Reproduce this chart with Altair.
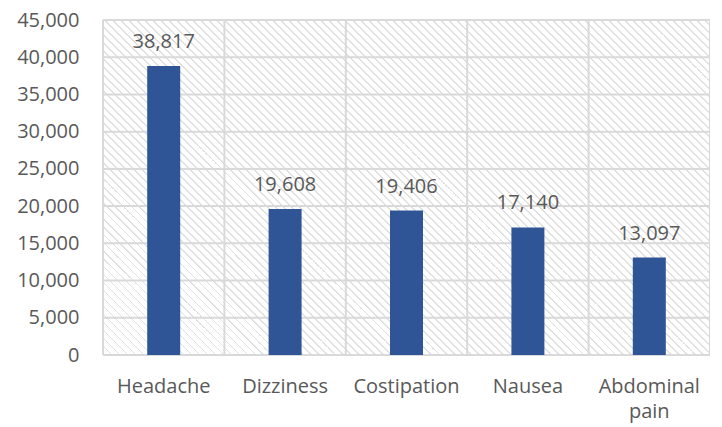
import altair as alt
import pandas as pd
import numpy as np

categories = ["Headache", "Dizziness", "Costipation", "Nausea", "Abdominal pain"]
values = [38817, 19608, 19406, 17140, 13097]
y_ticks = [0, 5000, 10000, 15000, 20000, 25000, 30000, 35000, 40000, 45000]

W, H = 607, 335
FONT = "Open Sans"
TXT = "#595959"
GRID = "#d9d9d9"

df = pd.DataFrame({"cat": categories, "val": values})
grid_df = pd.DataFrame({"t": y_ticks})
last_df = pd.DataFrame({"cat": categories[-1:]})

# diagonal hatch pattern as a hard-stop linear gradient (style only)
period, stripe = 8.0, 1.5
span = W + H
stops = []
k = 0
while k * period < span:
    a = k * period / span
    b = min((k * period + stripe) / span, 1.0)
    stops += [{"offset": a, "color": "#ffffff"}, {"offset": a, "color": "#e0e0e0"},
              {"offset": b, "color": "#e0e0e0"}, {"offset": b, "color": "#ffffff"}]
    k += 1
stops.append({"offset": 1.0, "color": "#ffffff"})
s = (W + H) * W / (W * W + H * H)
hatch = {"gradient": "linear", "x1": 0, "y1": 1, "x2": s, "y2": 1 - s * H / W, "stops": stops}

xs = alt.Scale(domain=categories, paddingInner=0, paddingOuter=0)
ys = alt.Scale(domain=[0, 45000], nice=False)

bg = alt.Chart(pd.DataFrame({"a": [0]})).mark_rect(fill=hatch, strokeWidth=0).encode(
    x=alt.value(0), x2=alt.value("width"), y=alt.value(0), y2=alt.value("height"))

hgrid = alt.Chart(grid_df).mark_rule(color=GRID, strokeWidth=2).encode(
    y=alt.Y("t:Q", scale=ys, axis=None))

vgrid = alt.Chart(df).mark_rule(color=GRID, strokeWidth=2).encode(
    x=alt.X("cat:N", scale=xs, bandPosition=0, axis=None))

vlast = alt.Chart(last_df).mark_rule(color=GRID, strokeWidth=2).encode(
    x=alt.X("cat:N", scale=xs, bandPosition=1, axis=None))

bars = alt.Chart(df).mark_bar(size=33, color="#2F5597").encode(
    x=alt.X("cat:N", scale=xs, sort=categories, title=None,
            axis=alt.Axis(labelAngle=0, labelFont=FONT, labelFontSize=20, labelColor=TXT,
                          domain=False, ticks=False, grid=False, labelPadding=21,
                          labelLineHeight=25, labelBaseline="top",
                          labelExpr="split(datum.label, ' ')")),
    y=alt.Y("val:Q", scale=ys, title=None,
            axis=alt.Axis(values=y_ticks, format=",.0f", labelFont=FONT, labelFontSize=20,
                          labelColor=TXT, domain=False, ticks=False, grid=False,
                          labelPadding=24)),
)

labels = alt.Chart(df).mark_text(font=FONT, fontSize=20, color=TXT, dy=-18,
                                 baseline="alphabetic").encode(
    x=alt.X("cat:N", scale=xs, axis=None),
    y=alt.Y("val:Q", scale=ys, axis=None),
    text=alt.Text("val:Q", format=",.0f"),
)

chart = alt.layer(bg, hgrid, vgrid, vlast, bars, labels).resolve_axis(
    x="independent", y="independent"
).properties(
    width=W, height=H,
    autosize=alt.AutoSizeParams(type="none"),
    padding={"left": 95, "top": 12, "right": 0, "bottom": 70},
).configure_view(stroke=None)

chart.save("out.html", embed_options={"renderer": "svg", "actions": False})
